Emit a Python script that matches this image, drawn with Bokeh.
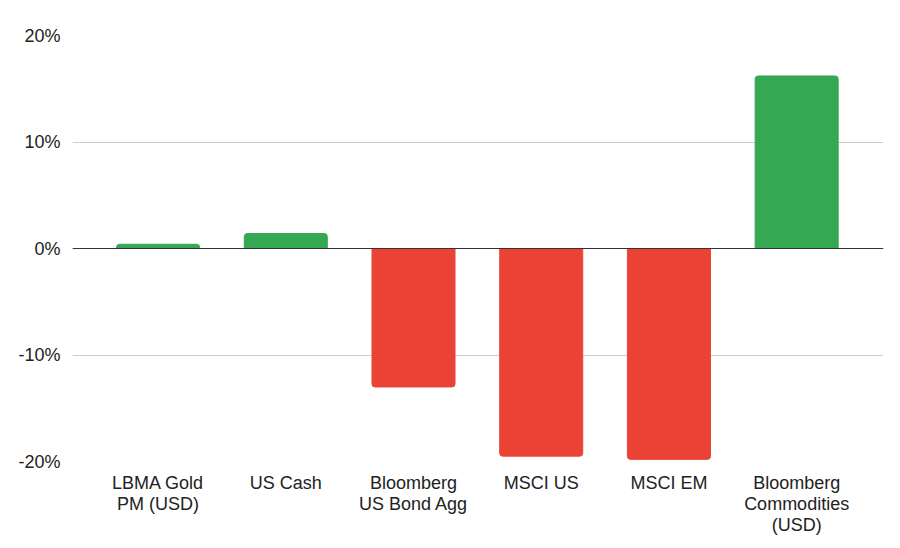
from bokeh.plotting import figure
from bokeh.models import Range1d, Span, FixedTicker
from bokeh.embed import file_html
from bokeh.resources import INLINE

# returns in %
categories = ["LBMA Gold\nPM (USD)", "US Cash", "Bloomberg\nUS Bond Agg",
              "MSCI US", "MSCI EM", "Bloomberg\nCommodities\n(USD)"]
returns = [0.4, 1.4, -13.0, -19.5, -19.8, 16.2]
y_ticks = [-20, -10, 0, 10, 20]

GREEN = "#34a853"
RED = "#ea4335"

xs = list(range(len(categories)))
pos_x = [x for x, r in zip(xs, returns) if r >= 0]
pos_r = [r for r in returns if r >= 0]
neg_x = [x for x, r in zip(xs, returns) if r < 0]
neg_r = [r for r in returns if r < 0]

p = figure(width=892, height=540, output_backend="svg", toolbar_location=None,
           x_range=Range1d(-0.67, 5.68), y_range=Range1d(-20, 20),
           min_border_left=72, min_border_right=9,
           min_border_top=35, min_border_bottom=79)
p.outline_line_color = None
p.background_fill_color = "white"

p.vbar(x=pos_x, top=pos_r, bottom=0, width=0.65, color=GREEN,
       border_radius=(3, 3, 0, 0))
p.vbar(x=neg_x, top=0, bottom=neg_r, width=0.65, color=RED,
       border_radius=(0, 0, 3, 3))

p.add_layout(Span(location=0, dimension="width", line_color="#333333", line_width=1.2))

p.xgrid.visible = False
p.ygrid.ticker = FixedTicker(ticks=y_ticks)
p.ygrid.grid_line_color = "#cccccc"
p.ygrid.grid_line_width = 1

p.yaxis.ticker = FixedTicker(ticks=y_ticks)
p.yaxis.major_label_overrides = {t: f"{t}%" for t in y_ticks}
p.xaxis.ticker = FixedTicker(ticks=xs)
p.xaxis.major_label_overrides = {x: c for x, c in zip(xs, categories)}

for ax in (p.xaxis, p.yaxis):
    ax.axis_line_color = None
    ax.major_tick_line_color = None
    ax.minor_tick_line_color = None
    ax.major_label_text_font = "Liberation Sans"
    ax.major_label_text_font_size = "18px"
    ax.major_label_text_color = "#222222"
p.yaxis.major_label_standoff = 6
p.xaxis.major_label_text_line_height = 1.05
p.xaxis.major_label_standoff = 11
p.xaxis.major_tick_out = 0
p.xaxis.major_tick_in = 0

open("out.html", "w").write(file_html(p, INLINE))
